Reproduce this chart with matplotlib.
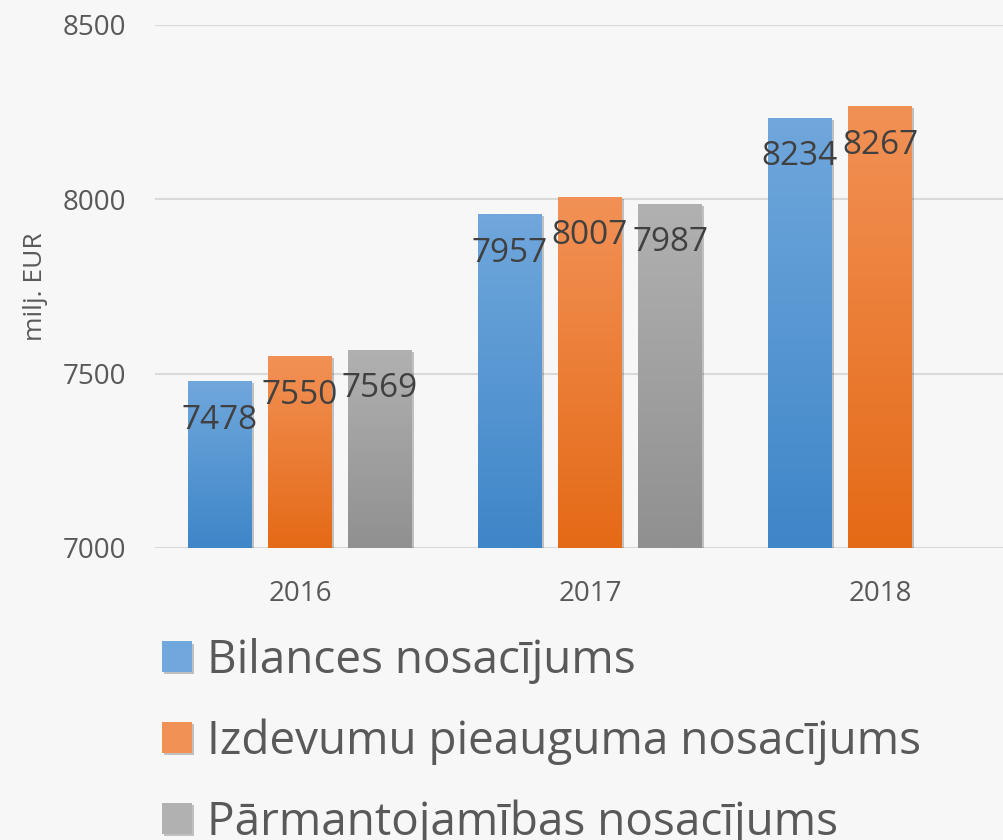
import numpy as np
import matplotlib
matplotlib.use("Agg")
import matplotlib.pyplot as plt
import matplotlib.patheffects as pe

years = ["2016", "2017", "2018"]
series_names = ["Bilances nosacījums", "Izdevumu pieauguma nosacījums", "Pārmantojamības nosacījums"]
bilances = [7478, 7957, 8234]
izdevumu = [7550, 8007, 8267]
parmantojamibas = [7569, 7987, np.nan]

# gradient colours (top, bottom) per series
grad_colors = [("#70a7dc", "#3e86c8"), ("#f29156", "#e46a16"), ("#b1b1b1", "#909090")]

BG = "#f7f7f7"
TXT = "#595959"

plt.rcParams["font.family"] = ["Open Sans", "DejaVu Sans"]

fig = plt.figure(figsize=(10.04, 8.4), dpi=100, facecolor=BG)
ax = fig.add_axes([155 / 1004, 1 - 548 / 840, 870 / 1004, 523 / 840])
ax.set_facecolor(BG)

x = np.arange(len(years))
width = 0.22
step = 0.276
all_vals = [bilances, izdevumu, parmantojamibas]

grad = np.linspace(0, 1, 256).reshape(-1, 1)
handles = []
for i, vals in enumerate(all_vals):
    top, bottom = grad_colors[i]
    cmap = matplotlib.colors.LinearSegmentedColormap.from_list("g%d" % i, [bottom, top])
    bars = ax.bar(x + (i - 1) * step, vals, width, bottom=0, color=top, label=series_names[i], zorder=2,
                  path_effects=[pe.SimplePatchShadow(offset=(1.5, -1.5), shadow_rgbFace="k", alpha=0.22), pe.Normal()])
    handles.append(bars)
    for b, v in zip(bars, vals):
        if np.isnan(v):
            continue
        bx, bw, bh = b.get_x(), b.get_width(), b.get_height()
        im = ax.imshow(grad, cmap=cmap, origin="lower", aspect="auto",
                       extent=(bx, bx + bw, 7000, bh), zorder=3)
        im.set_clip_path(b)
        ax.annotate(f"{v:.0f}", (bx + bw / 2, v), xytext=(0, -39), textcoords="offset pixels",
                    ha="center", va="center", fontsize=24, color="#404040", zorder=5)

ax.set_xlim(-0.5, 2.5)
ax.set_ylim(7000, 8500)
ax.set_yticks([7000, 7500, 8000, 8500])
ax.set_xticks(x)
ax.set_xticklabels(years)
ax.tick_params(axis="both", length=0, labelsize=20, colors=TXT)
ax.tick_params(axis="y", pad=21)
ax.tick_params(axis="x", pad=23)
ax.grid(axis="y", color="#d9d9d9", linewidth=1.5, zorder=0)
ax.set_axisbelow(True)
for s in ax.spines.values():
    s.set_visible(False)
ax.set_ylabel("milj. EUR", fontsize=19, color=TXT, labelpad=10)

# legend below the plot
leg = fig.legend(handles=handles, labels=series_names, loc="upper left",
                 bbox_to_anchor=(162 / 1004, 1 - 638 / 840), frameon=False,
                 fontsize=33, labelcolor=TXT, handlelength=0.66, handleheight=0.66,
                 handletextpad=0.33, labelspacing=0.75, borderaxespad=0, borderpad=0)

fig.savefig("out.png", dpi=100, facecolor=BG)
